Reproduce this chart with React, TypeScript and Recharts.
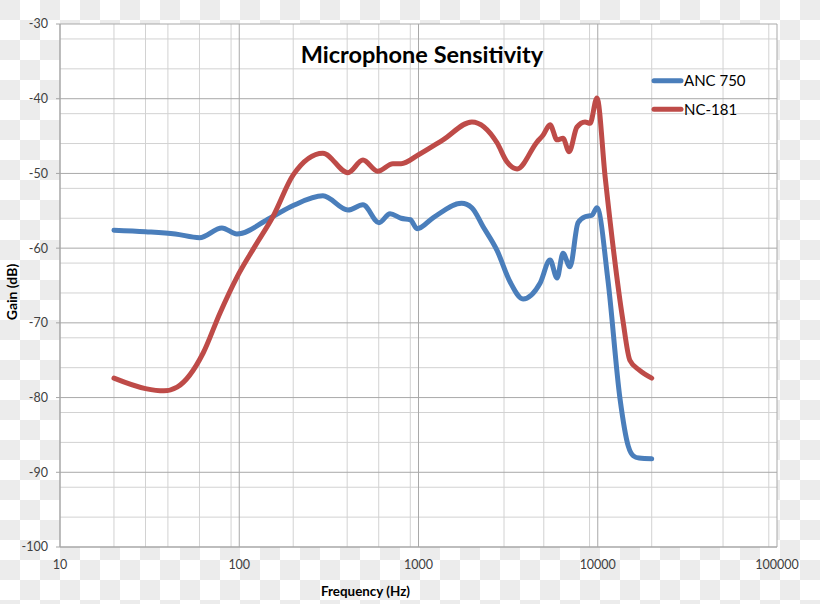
import React from 'react';
import { LineChart, Line, XAxis, YAxis, CartesianGrid } from 'recharts';

// ANC 750 (blue)
const ancFreq = [20, 30, 44, 60, 80, 97, 148, 200, 293, 404, 490, 602, 694, 800, 900, 982, 1210, 1740, 1986, 2290, 2742, 3240, 3830, 4764, 5420, 5930, 6400, 7000, 7760, 8490, 9290, 9900, 11400, 13300, 14800, 15800, 17000, 20000];
const ancGain = [-57.6, -57.8, -58.1, -58.6, -57.3, -58.1, -56.0, -54.3, -53.0, -54.9, -54.2, -56.6, -55.4, -56.0, -56.2, -57.4, -55.9, -54.0, -54.6, -57.1, -60.3, -64.5, -66.8, -64.7, -61.6, -64.0, -60.7, -62.5, -56.6, -55.8, -55.6, -54.6, -64.3, -80.1, -86.5, -87.8, -88.1, -88.2];

// NC-181 (red)
const ncFreq = [20, 30, 38, 45, 63, 78, 97, 122, 154, 200, 293, 404, 490, 592, 720, 800, 1000, 1370, 1986, 2742, 3105, 3548, 4580, 4950, 5420, 5930, 6400, 6920, 7650, 8490, 9060, 9900, 11000, 13800, 15100, 17000, 20000];
const ncGain = [-77.4, -78.8, -79.1, -78.6, -74.0, -68.7, -63.9, -59.8, -55.8, -50.2, -47.3, -49.9, -48.2, -49.7, -48.7, -48.7, -47.5, -45.5, -43.1, -45.9, -48.4, -49.4, -45.8, -44.9, -43.5, -45.5, -45.3, -47.1, -43.8, -43.1, -43.3, -39.9, -50.5, -69.6, -75.0, -76.3, -77.4];

const seriesNames = ['ANC 750', 'NC-181'];
const seriesColors = ['#4A7EBB', '#BE4B48'];

const xTicks = [10, 100, 1000, 10000, 100000];
const yTicks = [-100, -90, -80, -70, -60, -50, -40, -30];
const xMinor = [20, 30, 40, 50, 60, 70, 80, 90, 200, 300, 400, 500, 600, 700, 800, 900, 2000, 3000, 4000, 5000, 6000, 7000, 8000, 9000, 20000, 30000, 40000, 50000, 60000, 70000, 80000, 90000];
const yMinor = [-98, -96, -94, -92, -88, -86, -84, -82, -78, -76, -74, -72, -68, -66, -64, -62, -58, -56, -54, -52, -48, -46, -44, -42, -38, -36, -34, -32];

const ancData = ancFreq.map((f, i) => ({ f, g: ancGain[i] }));
const ncData = ncFreq.map((f, i) => ({ f, g: ncGain[i] }));

const FONT = 'Lato, "Liberation Sans", sans-serif';

export default function App() {
  return (
    <div
      style={{
        position: 'absolute',
        left: 0,
        top: 0,
        width: 820,
        height: 604,
        background: 'repeating-conic-gradient(#ffffff 0% 25%, #ececec 0% 50%) 0 0 / 40px 40px',
        fontFamily: FONT,
      }}
    >
      <LineChart width={820} height={604} margin={{ top: 24, right: 43, bottom: 27, left: 0 }}>
        <CartesianGrid
          fill="#ffffff"
          stroke="#d2d2d2"
          strokeWidth={1}
          horizontalValues={yMinor}
          verticalValues={xMinor}
        />
        <CartesianGrid
          fill="none"
          stroke="#a9a9a9"
          strokeWidth={1}
          horizontalValues={yTicks}
          verticalValues={xTicks}
        />
        <XAxis
          dataKey="f"
          type="number"
          scale="log"
          domain={[10, 100000]}
          ticks={xTicks}
          allowDataOverflow
          height={30}
          tickLine={false}
          tickSize={0}
          tickMargin={13}
          axisLine={{ stroke: '#a6a6a6' }}
          tick={{ fill: '#404040', fontSize: 12.5, fontFamily: FONT }}
        />
        <YAxis
          type="number"
          domain={[-100, -30]}
          ticks={yTicks}
          width={60}
          tickSize={4}
          tickMargin={8}
          axisLine={{ stroke: '#a6a6a6' }}
          tickLine={{ stroke: '#a6a6a6' }}
          tick={{ fill: '#404040', fontSize: 12.5, fontFamily: FONT }}
        />
        <Line
          data={ancData}
          dataKey="g"
          name={seriesNames[0]}
          type="monotone"
          stroke={seriesColors[0]}
          strokeWidth={5}
          strokeLinecap="round"
          strokeLinejoin="round"
          dot={false}
          activeDot={false}
          isAnimationActive={false}
        />
        <Line
          data={ncData}
          dataKey="g"
          name={seriesNames[1]}
          type="monotone"
          stroke={seriesColors[1]}
          strokeWidth={5}
          strokeLinecap="round"
          strokeLinejoin="round"
          dot={false}
          activeDot={false}
          isAnimationActive={false}
        />
      </LineChart>
      <svg
        width={820}
        height={604}
        style={{ position: 'absolute', left: 0, top: 0, pointerEvents: 'none' }}
        fontFamily={FONT}
      >
        <text x={422} y={63} textAnchor="middle" fontSize={23.5} fontWeight="bold" fill="#000">
          Microphone Sensitivity
        </text>
        <text transform="translate(17,292) rotate(-90)" textAnchor="middle" fontSize={14} fontWeight="bold" fill="#000">
          Gain (dB)
        </text>
        <text x={365.5} y={596} textAnchor="middle" fontSize={13.4} fontWeight="bold" fill="#000">
          Frequency (Hz)
        </text>
        {seriesNames.map((n, i) => (
          <g key={n}>
            <line x1={654} x2={681} y1={80.7 + i * 28.5} y2={80.7 + i * 28.5} stroke={seriesColors[i]} strokeWidth={5} strokeLinecap="round" />
            <text x={684} y={86 + i * 28.5} fontSize={15} fill="#000">
              {n}
            </text>
          </g>
        ))}
      </svg>
    </div>
  );
}
